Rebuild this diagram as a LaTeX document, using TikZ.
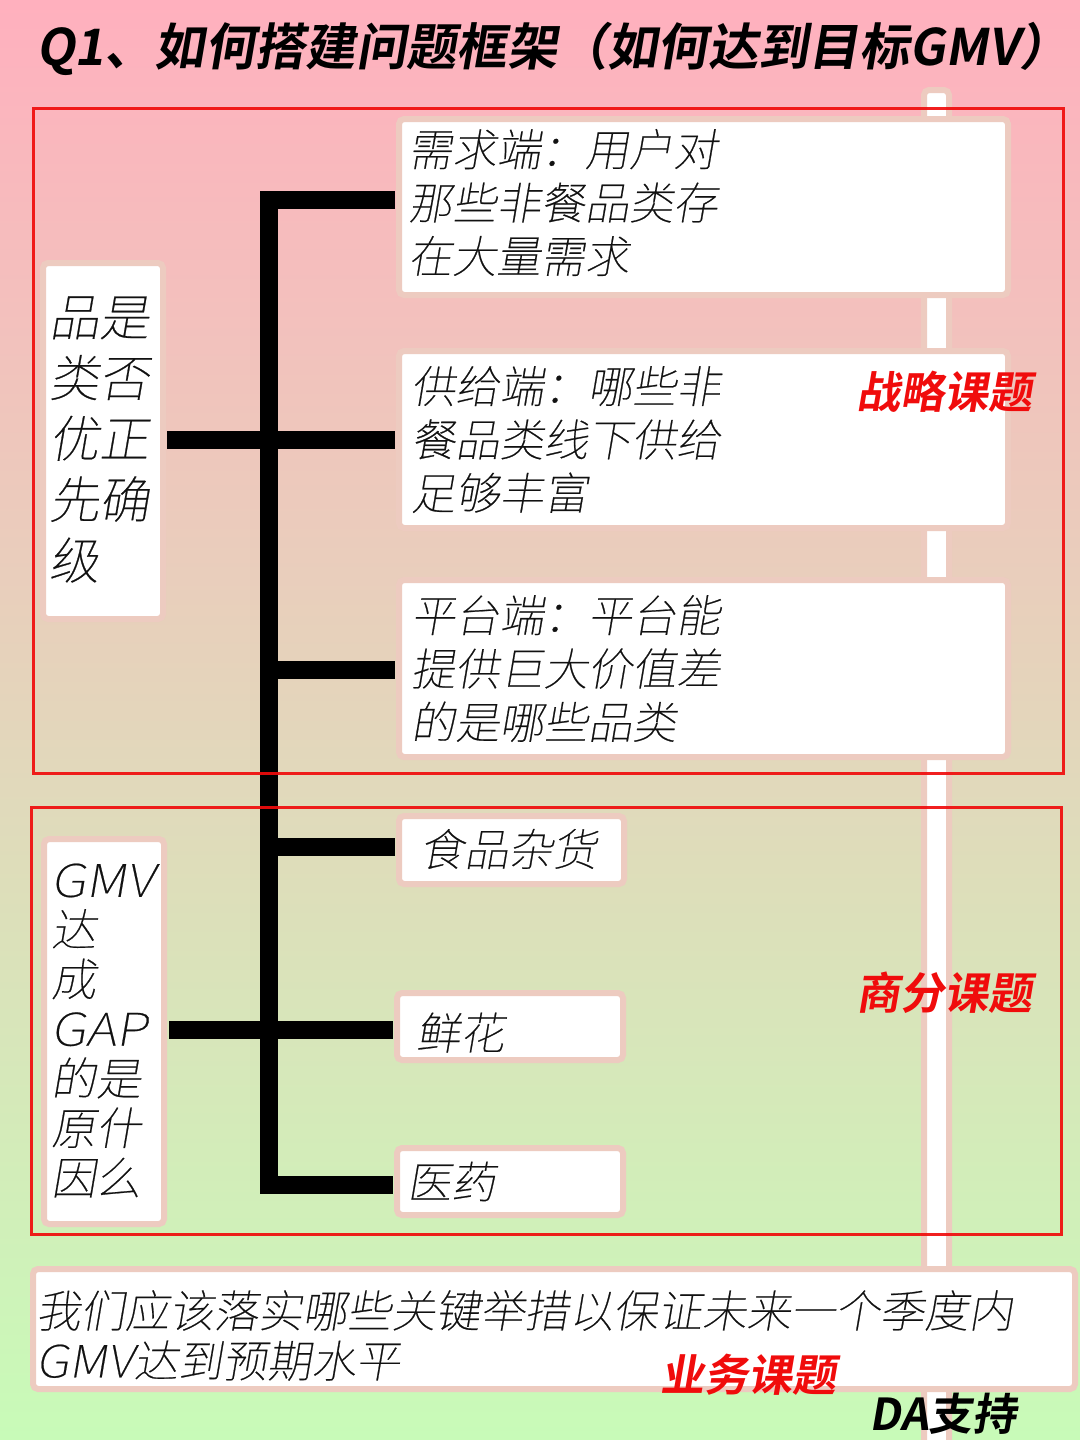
\documentclass[tikz,border=0pt]{standalone}
\usepackage{fontspec}
\setmainfont{Noto Sans CJK SC}
\newfontfamily\thinf[FakeSlant=0.17,FakeBold=0.5]{Noto Sans CJK SC Thin}
\newfontfamily\widef[FakeSlant=0.17,FakeStretch=1.17,FakeBold=0.5]{Noto Sans CJK SC Thin}
\newfontfamily\widerf[FakeSlant=0.17,FakeStretch=1.12,FakeBold=0.5]{Noto Sans CJK SC Thin}
\newfontfamily\boldf[FakeSlant=0.17]{Noto Sans CJK SC Bold}
\definecolor{topc}{HTML}{FFB0BE}
\definecolor{botc}{HTML}{C8FBB8}
\definecolor{edgec}{HTML}{EDCBC0}
\definecolor{redc}{HTML}{F00C0C}
\definecolor{inkc}{HTML}{111111}
\tikzset{
 x=0.5pt,y=-0.5pt,
 cardbox/.style={draw=edgec,line width=3pt,fill=white,rounded corners=2.5pt,outer sep=0pt,inner ysep=0pt,anchor=north west,align=left,text=inkc},
 bigtxt/.style={font=\thinf\fontsize{22.1}{26.7}\selectfont},
 sidetxt/.style={font=\thinf\fontsize{25}{30.4}\selectfont},
 gaptxt/.style={font=\thinf\fontsize{22.5}{24.8}\selectfont},
 wishtxt/.style={font=\thinf\fontsize{22.2}{25}\selectfont},
 lift/.style={execute at end node={\par\vspace*{#1}}},
 drop/.style={execute at begin node={\rule{0pt}{\dimexpr .88em+#1\relax}}},
 tagtxt/.style={font=\boldf\fontsize{22}{26}\selectfont,text=redc,inner sep=0pt},
 frame/.style={draw=redc,draw opacity=.92,line width=1.5pt},
 tree/.style={draw=black,line width=9pt,miter limit=10},
 fromcard/.style={shorten <=#1},
 tocard/.style={shorten >=2pt}
}
% name, white-area x0,y0,x1,y1, text inset (px), style, text
\newcommand{\cardnode}[8]{%
 \pgfmathsetmacro{\cw}{(#4-#2+6)/2}%
 \pgfmathsetmacro{\ch}{(#5-#3+6)/2}%
 \pgfmathsetmacro{\ci}{#6/2}%
 \pgfmathsetmacro{\ct}{\cw-#6}%
 \node[cardbox,#7,minimum width=\cw pt,minimum height=\ch pt,inner xsep=\ci pt,text width=\ct pt] (#1) at (#2-3,#3-3) {#8};%
}
\begin{document}
\begin{tikzpicture}
\useasboundingbox (0,0) rectangle (1080,1440);
\clip (0,0) rectangle (1080,1440);
\shade[top color=topc,bottom color=botc] (0,0) rectangle (1080,1440);
\cardnode{stripe}{927}{93}{946}{1460}{0}{}{}
\coordinate (ja) at (269,200);
\coordinate (jb) at (269,440);
\coordinate (jc) at (269,670);
\coordinate (jd) at (269,847);
\coordinate (je) at (269,1030);
\coordinate (jf) at (269,1185);
\cardnode{a}{402}{122}{1005}{292}{9}{bigtxt,lift=4.5pt}{需求端：用户对\\那些非餐品类存\\在大量需求}
\cardnode{b}{402}{354}{1005}{525}{12}{bigtxt}{供给端：哪些非\\餐品类线下供给\\足够丰富}
\cardnode{c}{402}{583}{1005}{754}{12}{bigtxt}{平台端：平台能\\提供巨大价值差\\的是哪些品类}
\cardnode{la}{46}{266}{160}{616}{6}{sidetxt,lift=1.5pt}{品是\\类否\\优正\\先确\\级}
\cardnode{lb}{47}{842}{161}{1221}{7}{gaptxt,lift=1pt}{{\widef GMV}\\达\\成\\{\widef GAP}\\的是\\原什\\因么}
\cardnode{d}{402}{819}{621}{881}{21}{bigtxt,lift=1pt}{食品杂货}
\cardnode{e}{400}{996}{620}{1057}{19}{bigtxt,drop=5pt}{鲜花}
\cardnode{f}{400}{1151}{620}{1212}{10}{bigtxt}{医药}
\cardnode{g}{36}{1272}{1072}{1386}{3}{wishtxt,drop=5.5pt}{我们应该落实哪些关键举措以保证未来一个季度内\\{\widerf GMV}达到预期水平}
\draw[tree,tocard] (ja-|a.west) ++(-4,0) -- (ja) -- (jf) -- (jf-|f.west);
\draw[tree,fromcard=2pt,tocard] (jb-|la.east) -- (jb-|b.west);
\draw[tree,tocard] (jc) -- (jc-|c.west);
\draw[tree,tocard] (jd) -- (jd-|d.west);
\draw[tree,fromcard=2.5pt,tocard] (je-|lb.east) -- (je-|e.west);
\draw[frame] (33,108) rectangle (1063,773);
\draw[frame] (31,807) rectangle (1061,1234);
\node[font=\boldf\fontsize{25.15}{30}\selectfont,text=black,inner sep=0pt] (title) at (553,49) {Q1、如何搭建问题框架（如何达到目标GMV）};
\node[tagtxt] (t1) at (944,392) {战略课题};
\node[tagtxt] (t2) at (944,993) {商分课题};
\node[tagtxt] (t3) at (748,1375) {业务课题};
\node[tagtxt,text=black] (t4) at (943,1414) {DA支持};
\end{tikzpicture}
\end{document}
